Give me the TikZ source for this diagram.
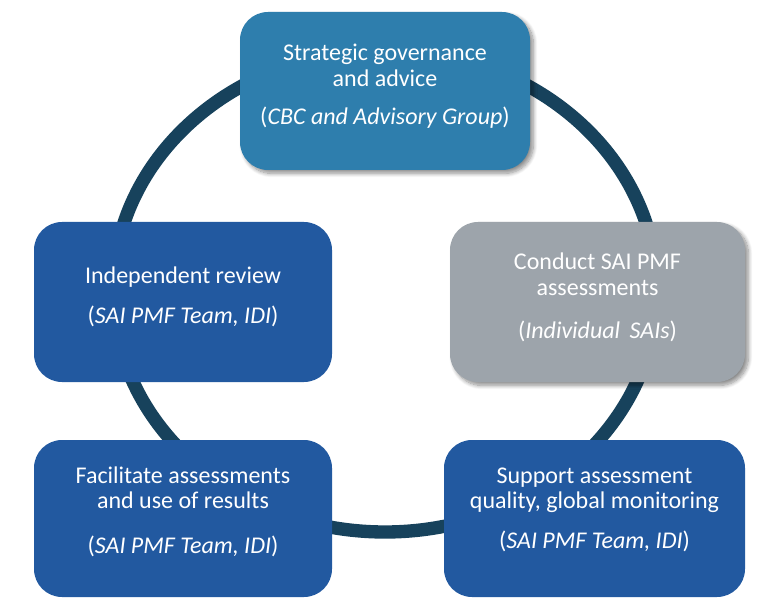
\documentclass[tikz,border=0pt]{standalone}
\usepackage{fontspec}
\setmainfont{Carlito}
\usetikzlibrary{shadows.blur}
\definecolor{ringc}{RGB}{23,66,92}
\definecolor{govc}{RGB}{46,126,173}
\definecolor{greyc}{RGB}{157,164,171}
\definecolor{bluec}{RGB}{34,89,160}
\tikzset{
  box/.style={rectangle, rounded corners=21pt, inner sep=0pt, outer sep=0pt, draw=none},
  shadowed/.style={blur shadow={shadow xshift=2.5pt, shadow yshift=-2.5pt, shadow blur steps=10, shadow blur radius=3pt, shadow opacity=45}},
  txt/.style={anchor=base, text=white, inner sep=0pt, font=\fontsize{18pt}{20pt}\selectfont},
  ringline/.style={draw=ringc, line width=10pt}
}
\begin{document}
\begin{tikzpicture}[x=0.75pt, y=-0.75pt]
\useasboundingbox (0,0) rectangle (768,606);
% ring
\draw[ringline] (385,291) ellipse [x radius=272, y radius=241];
% boxes
\node[box, shadowed, fill=govc, minimum width=217.5pt, minimum height=118.5pt] (gov) at (385,91) {};
\node[box, shadowed, fill=greyc, minimum width=221.25pt, minimum height=120pt] (conduct) at (597.5,302) {};
\node[box, fill=bluec, minimum width=223.5pt, minimum height=120pt] (review) at (183,302) {};
\node[box, fill=bluec, minimum width=223.5pt, minimum height=117.75pt] (facil) at (183,518.5) {};
\node[box, fill=bluec, minimum width=225.75pt, minimum height=117.75pt] (support) at (594.5,518.5) {};
% texts
\node[txt] (gov1) at (385,61) {Strategic governance};
\node[txt] (gov2) at (385,87) {and advice};
\node[txt] (gov3) at (385,125) {(\textit{CBC and Advisory Group})};
\node[txt] (con1) at (597.5,270) {Conduct SAI PMF};
\node[txt] (con2) at (597.5,296) {assessments};
\node[txt] (con3) at (597.5,338) {(\textit{Individual\, SAIs})};
\node[txt] (rev1) at (183,283) {Independent review};
\node[txt] (rev2) at (183,323) {(\textit{SAI PMF Team, IDI})};
\node[txt] (fac1) at (183,483) {Facilitate assessments};
\node[txt] (fac2) at (183,508) {and use of results};
\node[txt] (fac3) at (183,553) {(\textit{SAI PMF Team, IDI})};
\node[txt] (sup1) at (594.5,483) {Support assessment};
\node[txt] (sup2) at (594.5,508) {quality, global monitoring};
\node[txt] (sup3) at (594.5,548) {(\textit{SAI PMF Team, IDI})};
\end{tikzpicture}
\end{document}
